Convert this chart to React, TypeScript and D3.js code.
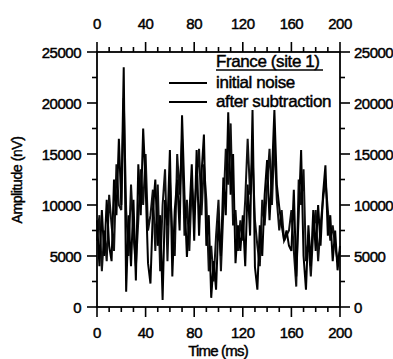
import { scaleLinear, line, range } from "d3";

const W = 393;
const H = 359;
const left = 97;
const top = 52;
const right = 340;
const bottom = 307;

// time axis in ms, step 2
const times = range(0, 201, 2);

// amplitude (nV) – initial noise
const initialNoise = [
  8500, 4000, 9500, 5000, 10500, 6000, 4500, 12500, 9000, 16500,
  10000, 23500, 1500, 9000, 4000, 10500, 2600, 14000, 9000, 17500,
  12000, 4300, 2300, 9500, 12500, 6000, 9000, 700, 10500, 8000,
  15400, 3000, 9500, 12500, 7500, 18800, 11000, 4900, 9000, 14000,
  6500, 15400, 7000, 13000, 16900, 6000, 9000, 900, 4500, 1700,
  8500, 5000, 12700, 9000, 19100, 11000, 15000, 4300, 8000, 5500,
  9000, 4000, 12000, 7000, 19300, 3900, 1700, 8000, 5000, 11000,
  14400, 8500, 13000, 19300, 12000, 9800, 8000, 6500, 7500, 6000,
  5500, 11500, 3000, 9000, 15400, 5000, 1700, 8000, 4000, 9500,
  5500, 10000, 6000, 11000, 13900, 7000, 9000, 4500, 7500, 3600,
  6000,
];

// amplitude (nV) – after subtraction
const afterSubtraction = [
  6500, 9000, 3500, 7500, 4500, 11000, 8000, 5500, 14000, 10000,
  9500, 20500, 9500, 5000, 12000, 7000, 4000, 8500, 13500, 10000,
  15000, 7500, 9000, 11500, 5500, 12000, 3500, 10000, 13500, 4500,
  12500, 7000, 5000, 15000, 11000, 16500, 7000, 10500, 5500, 12000,
  9000, 12500, 15500, 9000, 14000, 10500, 3500, 6000, 2500, 7000,
  10500, 3500, 9500, 15500, 12000, 18000, 8000, 9500, 5500, 8500,
  6500, 10500, 16500, 11000, 15000, 8500, 6000, 4000, 10500, 8000,
  12000, 15500, 10000, 16500, 10500, 7500, 9500, 6500, 7000, 7500,
  9500, 5500, 2000, 12500, 10000, 13500, 4500, 6500, 3000, 7500,
  9500, 4500, 8000, 10500, 12500, 9500, 6500, 8000, 6000, 4500,
  5500,
];

const xMajor = [0, 40, 80, 120, 160, 200];
const xMinor = range(0, 201, 10);
const yMajor = [0, 5000, 10000, 15000, 20000, 25000];
const yMinor = range(0, 25001, 2500);

const legendTitle = "France (site 1)";
const seriesNames = ["initial noise", "after subtraction"];

const font = "'Liberation Sans', Arial, sans-serif";

// slight outline to mimic the heavy printed glyphs
const heavy = { stroke: "#000", strokeWidth: 0.45 };

export default function App() {
  const x = scaleLinear().domain([0, 200]).range([left, right]);
  const y = scaleLinear().domain([0, 25000]).range([bottom, top]);

  const lineOf = (vals: number[]) =>
    line<number>()
      .x((_, i) => x(times[i]))
      .y((d) => y(d))(vals) ?? "";

  return (
    <svg
      width={W}
      height={H}
      style={{ position: "absolute", left: 0, top: 0, background: "#fff" }}
      fontFamily={font}
    >
      {/* data */}
      <path d={lineOf(afterSubtraction)} fill="none" stroke="#111" strokeWidth={2} />
      <path d={lineOf(initialNoise)} fill="none" stroke="#000" strokeWidth={2} />

      {/* frame */}
      <rect
        x={left}
        y={top}
        width={right - left}
        height={bottom - top}
        fill="none"
        stroke="#000"
        strokeWidth={1.8}
      />

      {/* x ticks bottom and top */}
      {xMinor.map((t) => {
        const len = xMajor.includes(t) ? 10 : 5;
        return (
          <g key={"xt" + t} stroke="#000" strokeWidth={1.6}>
            <line x1={x(t)} x2={x(t)} y1={bottom} y2={bottom + len} />
            <line x1={x(t)} x2={x(t)} y1={top} y2={top - len} />
          </g>
        );
      })}
      {xMajor.map((t) => (
        <g key={"xl" + t} fontSize={15} textAnchor="middle" letterSpacing={-0.5} {...heavy}>
          <text x={x(t)} y={338}>{t}</text>
          <text x={x(t)} y={29}>{t}</text>
        </g>
      ))}

      {/* y ticks left and right */}
      {yMinor.map((v) => {
        const len = yMajor.includes(v) ? 10 : 5;
        return (
          <g key={"yt" + v} stroke="#000" strokeWidth={1.6}>
            <line x1={left - len} x2={left} y1={y(v)} y2={y(v)} />
            <line x1={right} x2={right + len} y1={y(v)} y2={y(v)} />
          </g>
        );
      })}
      {yMajor.map((v) => (
        <g key={"yl" + v} fontSize={15} letterSpacing={-0.5} {...heavy}>
          <text x={81} y={y(v) + 5.5} textAnchor="end">{v}</text>
          <text x={354} y={y(v) + 5.5}>{v}</text>
        </g>
      ))}

      {/* axis titles */}
      <text x={218} y={356} fontSize={15} textAnchor="middle" letterSpacing={-0.8} {...heavy}>
        Time (ms)
      </text>
      <text
        transform={`translate(22, 180) rotate(-90)`}
        fontSize={14}
        textAnchor="middle"
        letterSpacing={-0.4}
        {...heavy}
      >
        Amplitude (nV)
      </text>

      {/* legend */}
      <text x={216} y={67} fontSize={17} letterSpacing={-0.4} {...heavy}>
        {legendTitle}
      </text>
      <line x1={216} x2={323} y1={70} y2={70} stroke="#000" strokeWidth={1.4} />
      {seriesNames.map((name, i) => (
        <g key={name}>
          <line x1={169} x2={207} y1={83 + i * 19} y2={83 + i * 19} stroke="#000" strokeWidth={1.8} />
          <text x={216} y={88 + i * 19} fontSize={17} letterSpacing={-0.4} {...heavy}>
            {name}
          </text>
        </g>
      ))}
    </svg>
  );
}
